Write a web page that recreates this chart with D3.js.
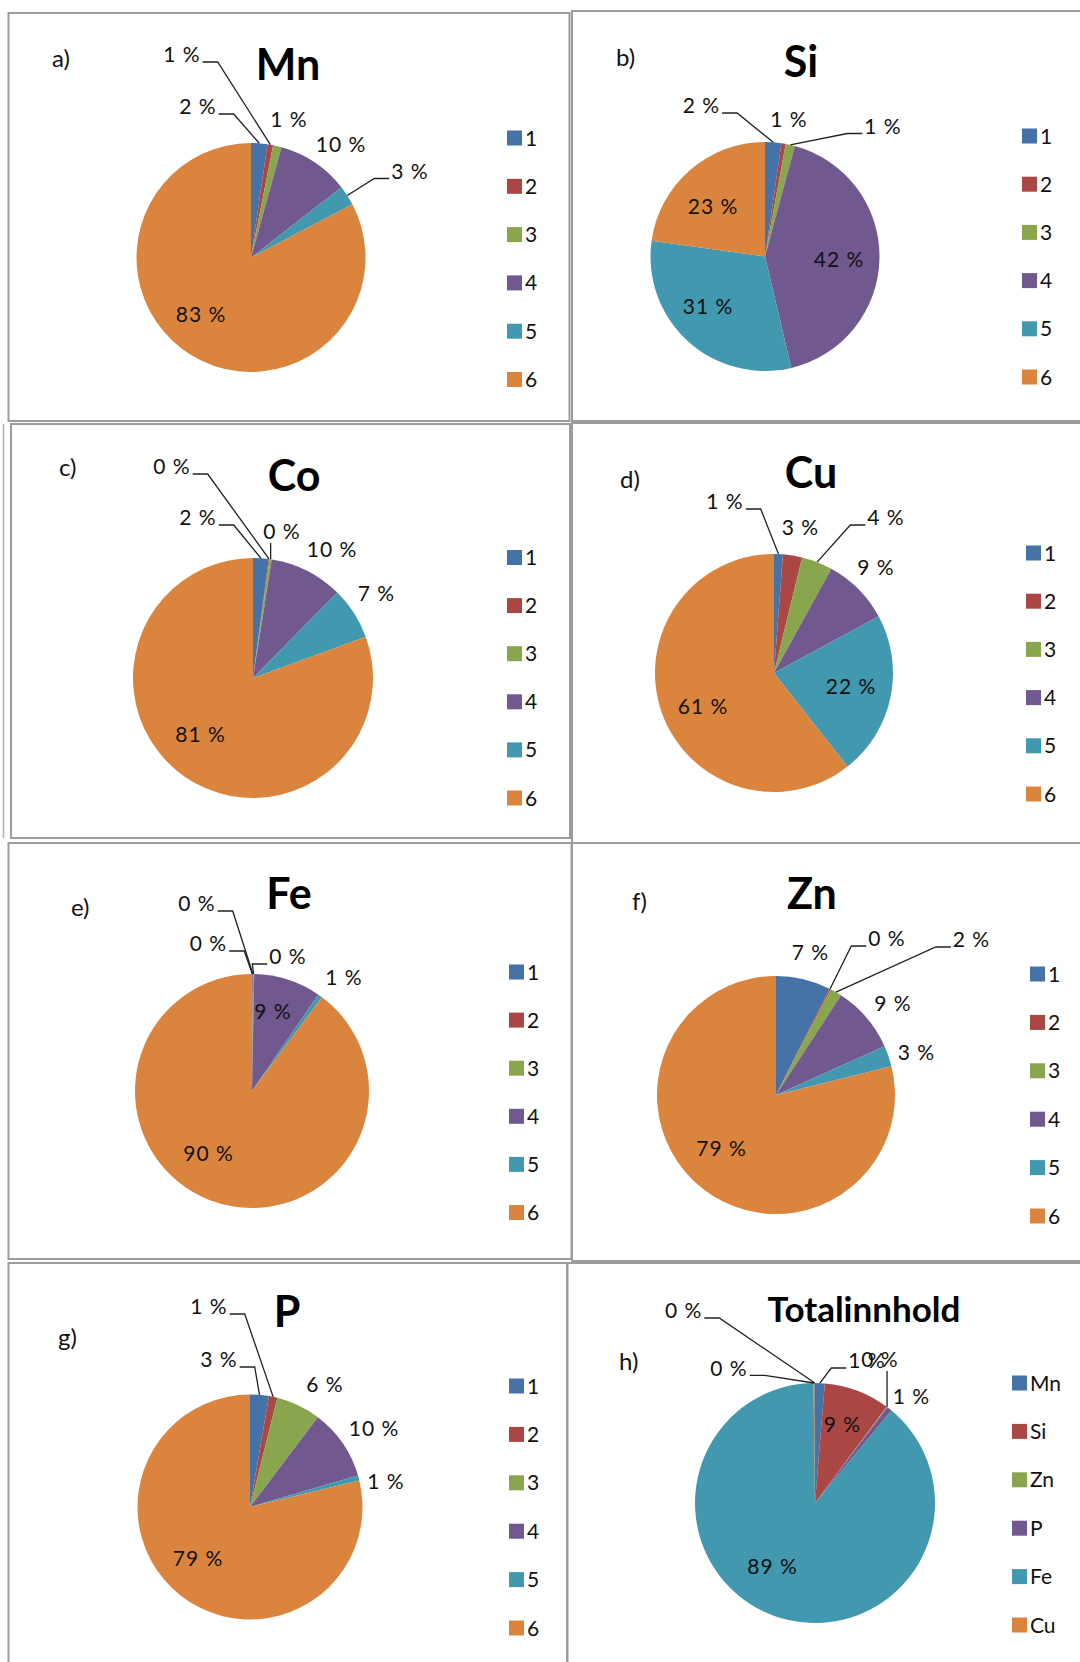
<!DOCTYPE html>
<html>
<head>
<meta charset="utf-8">
<script src="https://cdn.jsdelivr.net/npm/d3@7"></script>
<style>
  body { margin: 0; background: #fff; }
  svg { display: block; font-family: Lato, "Open Sans", sans-serif; }
</style>
</head>
<body>
<div class="chart-container"></div>
<script>
// categories
var fractions = ["1", "2", "3", "4", "5", "6"];
var elements = ["Mn", "Si", "Zn", "P", "Fe", "Cu", "Co"];
var titles = ["Mn", "Si", "Co", "Cu", "Fe", "Zn", "P", "Totalinnhold"];
var letters = ["a)", "b)", "c)", "d)", "e)", "f)", "g)", "h)"];

// share of each fraction (%)
var mnValues = [2.3, 0.8, 1.2, 10.2, 2.8, 82.7];
var siValues = [2.3, 0.6, 1.3, 42.1, 30.9, 22.8];
var coValues = [2.1, 0.1, 0.3, 9.9, 7.0, 80.6];
var cuValues = [1.2, 2.6, 4.2, 9.1, 22.3, 60.6];
var feValues = [0.1, 0.05, 0.15, 9.3, 0.6, 89.8];
var znValues = [7.4, 0.2, 1.6, 9.1, 2.8, 78.9];
var pValues = [2.7, 1.2, 6.4, 10.2, 0.7, 78.8];
// total content by element
var totalValues = [1.3, 8.9, 0.1, 0.7, 88.8, 0.15, 0.05];

var series = [mnValues, siValues, coValues, cuValues, feValues, znValues, pValues, totalValues];

var colors = ["#4572A7", "#AA4643", "#89A54E", "#71588F", "#4198AF", "#DB843D", "#2C4D75"];

// layout: panel box, pie centre/radius, title, letter, legend, label offsets [dx, dy, leader]
var layout = [
  { box: [8.5, 13, 561, 408], pie: [251, 257.5, 114.5], title: [288, 79.5, 43], letter: [52, 67], legend: [507, 138, 48.3],
    labels: [[-53, -150.5, 1], [-69, -202.5, 1], [38, -138, 0], [90, -113, 0], [159, -86, 1], [-50, 57, 0]] },
  { box: [572, 11, 520, 410], pie: [765, 256.5, 114.5], title: [801, 77, 43], letter: [616, 66], legend: [1022, 136, 48.2],
    labels: [[-63.6, -150.5, 1], [24, -137, 0], [118, -130, 1], [74, 3, 0], [-57, 50, 0], [-52, -50, 0]] },
  { box: [11, 424, 559, 414], pie: [253, 678, 120], title: [294, 491, 43], letter: [59, 476], legend: [507, 557.5, 48.1],
    labels: [[-55, -160, 1], [-81, -211, 1], [29, -146, 1], [79, -128, 0], [123.5, -84, 0], [-52.5, 56.5, 0]] },
  { box: [572, 423, 520, 420], pie: [774, 673, 119], title: [811, 488, 43], letter: [620, 488], legend: [1026, 553, 48.2],
    labels: [[-49, -171, 1], [26.5, -145, 0], [112, -155, 1], [102, -105, 0], [77, 14, 0], [-71, 34, 0]] },
  { box: [8.5, 843, 563, 416], pie: [252, 1091, 117], title: [289, 909, 43], letter: [71, 916], legend: [509, 972, 48.1],
    labels: [[-43.5, -147, 1], [-55, -187, 1], [36, -134, 1], [21, -79, 0], [92, -113, 0], [-43.5, 63, 0]] },
  { box: [572, 843, 520, 418], pie: [776, 1095, 119], title: [812, 909, 43], letter: [632, 910], legend: [1030, 974, 48.4],
    labels: [[34.5, -142, 0], [111, -156, 1], [195.5, -155, 1], [117, -91, 0], [140.5, -42, 0], [-54.5, 54, 0]] },
  { box: [8.5, 1263, 559, 420], pie: [250, 1507, 112.5], title: [287, 1327, 43], letter: [58, 1346], legend: [509, 1386, 48.4],
    labels: [[-31, -147, 1], [-41, -200, 1], [75, -122, 0], [124, -78, 0], [136, -25, 0], [-52, 52, 0]] },
  { box: [567, 1263, 530, 420], pie: [815, 1503, 120], title: [864, 1322, 35], letter: [619, 1370], legend: [1012, 1383, 48.4],
    labels: [[52, -142, 1], [27.5, -78, 0], [65, -143, 1], [96.5, -106, 0], [-42.4, 64, 0], [-86, -134.6, 1], [-131.4, -192, 1]] }
];

var width = 1080;
var height = 1662;

var svg = d3
  .select(".chart-container")
  .append("svg")
  .attr("width", width)
  .attr("height", height);

layout.forEach(function (p, i) {
  drawPanel(p, i);
});

function drawPanel(p, i) {
  var g = svg.append("g").attr("class", "panel");
  var values = series[i];
  var cats = i === 7 ? elements : fractions;
  var total = d3.sum(values);

  g.append("rect")
    .attr("x", p.box[0])
    .attr("y", p.box[1])
    .attr("width", p.box[2])
    .attr("height", p.box[3])
    .attr("fill", "none")
    .attr("stroke", "#9c9c9c")
    .attr("stroke-width", 2);

  if (i === 2) {
    // second edge line seen on panel c
    g.append("line")
      .attr("x1", 3.5).attr("x2", 3.5)
      .attr("y1", p.box[1]).attr("y2", p.box[1] + p.box[3])
      .attr("stroke", "#b0b0b0").attr("stroke-width", 1.5);
  }

  g.append("text")
    .attr("x", p.title[0])
    .attr("y", p.title[1])
    .attr("text-anchor", "middle")
    .attr("font-weight", "bold")
    .attr("font-size", p.title[2] + "px")
    .attr("fill", "#000")
    .text(titles[i]);

  g.append("text")
    .attr("x", p.letter[0])
    .attr("y", p.letter[1])
    .attr("font-size", "24px")
    .attr("fill", "#111")
    .text(letters[i]);

  var cx = p.pie[0], cy = p.pie[1], r = p.pie[2];
  var pie = d3.pie().sort(null).value((d) => d);
  var arcs = pie(values);
  var arc = d3.arc().innerRadius(0).outerRadius(r);
  var edge = d3.arc().innerRadius(r).outerRadius(r);

  var slices = g.append("g").attr("transform", `translate(${cx},${cy})`);
  slices
    .selectAll("path")
    .data(arcs)
    .enter()
    .append("path")
    .attr("d", arc)
    .attr("fill", (d, k) => colors[k]);

  // data labels
  var labelG = g.append("g").attr("class", "labels");
  arcs.forEach(function (d, k) {
    var off = p.labels[k];
    var lx = cx + off[0];
    var ly = cy + off[1];
    var txt = labelG
      .append("text")
      .attr("x", lx)
      .attr("y", ly)
      .attr("dy", "0.35em")
      .attr("text-anchor", "middle")
      .attr("font-size", "21px")
      .attr("letter-spacing", "1px")
      .attr("fill", "#111")
      .text(Math.round((d.value / total) * 100) + " %");

    if (off[2]) {
      var tw = txt.node().getComputedTextLength();
      var c = edge.centroid(d);
      var px = cx + c[0], py = cy + c[1];
      var pts;
      if (px >= lx - tw / 2 && px <= lx + tw / 2) {
        pts = [[px, ly + 11], [px, py]];
      } else {
        var right = px > lx;
        var x0 = right ? lx + tw / 2 + 2 : lx - tw / 2 - 2;
        var x1 = right ? x0 + 15 : x0 - 15;
        pts = [[x0, ly + 7], [x1, ly + 7], [px, py]];
      }
      labelG
        .append("path")
        .attr("d", d3.line()(pts))
        .attr("fill", "none")
        .attr("stroke", "#222")
        .attr("stroke-width", 1.3);
    }
  });

  // legend (Excel drops the last entry on the total chart)
  var legendCats = cats.slice(0, 6);
  var legend = g
    .append("g")
    .attr("class", "legend")
    .selectAll("g")
    .data(legendCats)
    .enter()
    .append("g")
    .attr("transform", (d, k) => `translate(${p.legend[0]},${p.legend[1] + k * p.legend[2]})`);

  legend
    .append("rect")
    .attr("x", 0)
    .attr("y", -7.5)
    .attr("width", 15)
    .attr("height", 15)
    .attr("fill", (d, k) => colors[k]);

  legend
    .append("text")
    .attr("x", 18)
    .attr("dy", "0.36em")
    .attr("font-size", "21px")
    .attr("fill", "#111")
    .text((d) => d);
}
</script>
</body>
</html>
